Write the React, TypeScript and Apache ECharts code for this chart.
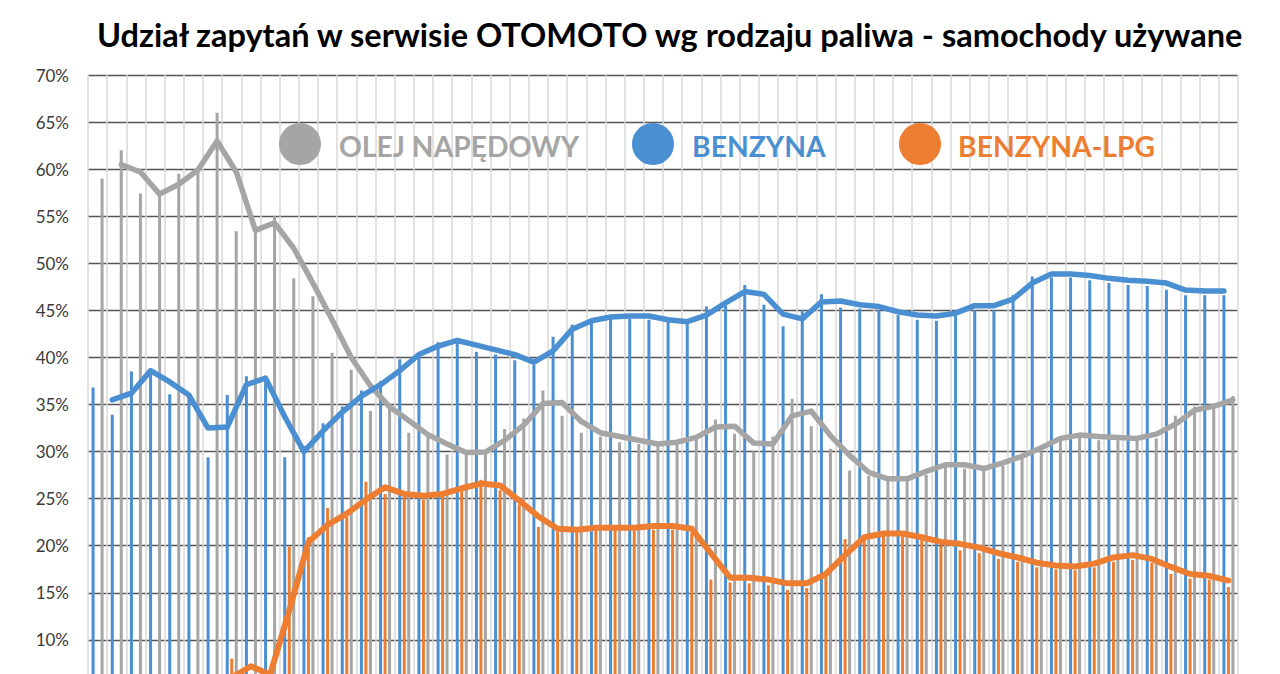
import React, { useEffect, useRef } from 'react';
import * as echarts from 'echarts';

const TITLE = 'Udział zapytań w serwisie OTOMOTO wg rodzaju paliwa - samochody używane';
const NAME_OLEJ = 'OLEJ NAPĘDOWY';
const NAME_BENZ = 'BENZYNA';
const NAME_LPG = 'BENZYNA-LPG';

const categories = [
  '1', '2', '3', '4', '5', '6', '7', '8', '9', '10',
  '11', '12', '13', '14', '15', '16', '17', '18', '19', '20',
  '21', '22', '23', '24', '25', '26', '27', '28', '29', '30',
  '31', '32', '33', '34', '35', '36', '37', '38', '39', '40',
  '41', '42', '43', '44', '45', '46', '47', '48', '49', '50',
  '51', '52', '53', '54', '55', '56', '57', '58', '59', '60',
];

const yTicks = [0, 5, 10, 15, 20, 25, 30, 35, 40, 45, 50, 55, 60, 65, 70];
const firstVisibleTick = 10;

// monthly shares (bars)
const olejBars = [
  59.0, 62.0, 57.4, 57.3, 59.5, 60.2, 66.0, 53.4, 53.6, 55.0,
  48.4, 46.5, 40.5, 38.7, 34.3, 35.0, 32.0, 31.6, 29.7, 30.1,
  29.8, 32.4, 33.5, 36.5, 33.8, 32.0, 31.6, 31.0, 30.8, 30.7,
  31.1, 31.5, 33.4, 31.9, 30.0, 31.6, 35.6, 32.7, 30.3, 28.0,
  27.4, 27.0, 27.0, 27.5, 28.4, 28.2, 28.0, 28.5, 29.3, 30.0,
  31.6, 31.6, 31.2, 31.2, 31.2, 31.4, 33.8, 34.8, 34.6, 35.9,
];
const benzBars = [
  36.8, 33.9, 38.5, 38.7, 36.1, 35.9, 29.4, 36.0, 38.0, 37.6,
  29.4, 30.6, 33.0, 34.8, 36.5, 37.5, 39.8, 40.5, 41.6, 41.9,
  40.6, 40.3, 39.7, 39.2, 42.2, 43.5, 43.8, 44.2, 44.1, 44.0,
  43.8, 43.6, 45.4, 45.5, 47.7, 45.6, 43.3, 45.0, 46.7, 45.3,
  45.2, 45.0, 44.5, 44.0, 43.9, 44.4, 45.0, 45.0, 46.6, 48.6,
  48.5, 48.5, 48.2, 47.9, 47.7, 47.6, 47.2, 46.6, 46.6, 46.6,
];
const lpgBars = [
  4.0, 4.0, 4.0, 4.0, 4.0, 4.0, 4.0, 8.0, 6.4, 6.2,
  19.9, 20.9, 24.0, 23.1, 26.8, 25.5, 25.2, 24.9, 25.5, 25.9,
  27.0, 25.9, 24.4, 22.0, 21.5, 21.7, 21.7, 21.7, 21.6, 21.7,
  21.7, 21.4, 16.4, 16.1, 16.0, 15.8, 15.3, 15.5, 17.3, 20.7,
  21.1, 21.4, 21.0, 20.6, 20.0, 19.5, 19.2, 18.6, 18.3, 17.7,
  17.5, 17.4, 17.7, 18.3, 18.5, 18.2, 17.0, 16.5, 16.4, 15.6,
];

// trend lines
const olejLine = [
  null, 60.5, 59.7, 57.35, 58.4, 59.9, 63.0, 59.7, 53.5, 54.3,
  51.6, 47.9, 44.0, 40.0, 37.0, 34.75, 33.3, 31.8, 30.8, 29.9,
  29.95, 31.2, 32.8, 35.1, 35.2, 33.2, 32.0, 31.6, 31.2, 30.8,
  31.0, 31.5, 32.6, 32.7, 30.9, 30.8, 33.8, 34.3, 31.7, 29.6,
  27.8, 27.1, 27.1, 27.9, 28.6, 28.6, 28.2, 28.8, 29.5, 30.4,
  31.4, 31.75, 31.6, 31.5, 31.4, 31.85, 32.9, 34.4, 34.8, 35.5,
];
const benzLine = [
  null, 35.5, 36.2, 38.6, 37.4, 36.0, 32.5, 32.6, 37.1, 37.8,
  33.7, 30.0, 32.2, 34.2, 35.9, 37.1, 38.6, 40.3, 41.2, 41.8,
  41.3, 40.8, 40.3, 39.5, 40.7, 43.0, 43.9, 44.3, 44.4, 44.4,
  44.0, 43.8, 44.5, 45.8, 47.0, 46.7, 44.6, 44.1, 45.9, 46.0,
  45.6, 45.4, 44.85, 44.5, 44.4, 44.7, 45.5, 45.5, 46.2, 47.9,
  48.85, 48.85, 48.7, 48.4, 48.2, 48.1, 47.9, 47.15, 47.05, 47.05,
];
const lpgLine = [
  null, 4.0, 4.0, 4.0, 4.0, 4.0, 4.0, 6.0, 7.2, 6.3,
  13.1, 20.4, 22.2, 23.4, 24.9, 26.2, 25.5, 25.3, 25.5, 26.1,
  26.6, 26.4, 24.8, 23.1, 21.8, 21.7, 21.9, 21.9, 21.9, 22.1,
  22.1, 21.8, 19.2, 16.6, 16.6, 16.4, 16.0, 16.0, 17.0, 19.0,
  20.9, 21.3, 21.3, 20.9, 20.4, 20.2, 19.8, 19.2, 18.75, 18.2,
  17.9, 17.8, 18.1, 18.75, 19.0, 18.6, 17.75, 17.0, 16.8, 16.3,
];

const GRAY = '#A5A5A5';
const BLUE = '#4A8FD1';
const ORANGE = '#ED7D31';

export default function App() {
  const ref = useRef<HTMLDivElement>(null);

  useEffect(() => {
    if (!ref.current) return;
    const chart = echarts.init(ref.current, null, { renderer: 'svg' });

    const gridLeft = 88;
    const gridWidth = 1150;
    const catW = gridWidth / categories.length;
    const barW = 3;
    const barGapPx = 1.5;
    const step = (barW + barGapPx) / catW;

    const toXY = (arr: (number | null)[], off: number) =>
      arr.map((v, i) => [i + off, v]);

    const lineSeries = (name: string, arr: (number | null)[], off: number, color: string, width: number) => ({
      name,
      type: 'line',
      xAxisIndex: 1,
      data: toXY(arr, off),
      symbol: 'none',
      connectNulls: false,
      z: 5,
      lineStyle: { color, width, cap: 'round', join: 'round' },
      itemStyle: { color },
    });

    const legendFont = { fontFamily: 'Lato', fontWeight: 'bold', fontSize: 28.3, verticalAlign: 'middle' };

    const option = {
      animation: false,
      backgroundColor: '#ffffff',
      title: {
        text: TITLE,
        left: 92,
        top: 13,
        textStyle: {
          fontFamily: 'Lato',
          fontWeight: 'bold',
          fontSize: 32.5,
          color: '#000000',
        },
      },
      grid: { left: gridLeft, top: 75, width: gridWidth, height: 659 },
      xAxis: [
        {
          type: 'category',
          data: categories,
          boundaryGap: true,
          axisLine: { show: false },
          axisTick: { show: false },
          axisLabel: { show: false },
          splitLine: { show: true, interval: 0, lineStyle: { color: '#d9d9d9', width: 1.5 } },
        },
        {
          type: 'value',
          min: -0.5,
          max: categories.length - 0.5,
          show: false,
          splitLine: { show: false },
        },
      ],
      yAxis: {
        type: 'value',
        min: yTicks[0],
        max: yTicks[yTicks.length - 1],
        interval: 5,
        axisLine: { show: false },
        axisTick: { show: false },
        axisLabel: {
          formatter: (v: number) => (v >= firstVisibleTick ? v + '%' : ''),
          fontFamily: 'Lato',
          fontSize: 17,
          color: '#3a3a3a',
          margin: 19,
        },
        splitLine: { show: true, lineStyle: { color: '#555555', width: 1.4 } },
      },
      series: [
        {
          name: NAME_BENZ,
          type: 'bar',
          data: benzBars,
          barWidth: barW,
          barGap: '50%',
          itemStyle: { color: BLUE },
          z: 2,
        },
        {
          name: NAME_LPG,
          type: 'bar',
          data: lpgBars,
          barWidth: barW,
          barGap: '50%',
          itemStyle: { color: ORANGE },
          z: 2,
        },
        {
          name: NAME_OLEJ,
          type: 'bar',
          data: olejBars,
          barWidth: barW,
          barGap: '50%',
          itemStyle: { color: GRAY },
          z: 2,
        },
        lineSeries(NAME_OLEJ + ' (trend)', olejLine, step, GRAY, 5.5),
        lineSeries(NAME_BENZ + ' (trend)', benzLine, -step, BLUE, 5.5),
        lineSeries(NAME_LPG + ' (trend)', lpgLine, 0, ORANGE, 6),
      ],
      graphic: [
        { type: 'circle', shape: { cx: 300, cy: 144, r: 21 }, style: { fill: GRAY }, z: 10 },
        { type: 'text', x: 339, y: 146, z: 10, style: { text: NAME_OLEJ, fill: GRAY, ...legendFont } },
        { type: 'circle', shape: { cx: 653, cy: 144, r: 21 }, style: { fill: BLUE }, z: 10 },
        { type: 'text', x: 692, y: 146, z: 10, style: { text: NAME_BENZ, fill: BLUE, ...legendFont } },
        { type: 'circle', shape: { cx: 920, cy: 144, r: 21 }, style: { fill: ORANGE }, z: 10 },
        { type: 'text', x: 958, y: 146, z: 10, style: { text: NAME_LPG, fill: ORANGE, ...legendFont } },
      ],
    };

    chart.setOption(option as any);
    return () => chart.dispose();
  }, []);

  return (
    <div
      ref={ref}
      style={{ position: 'fixed', left: 0, top: 0, width: 1280, height: 760, background: '#ffffff' }}
    />
  );
}
